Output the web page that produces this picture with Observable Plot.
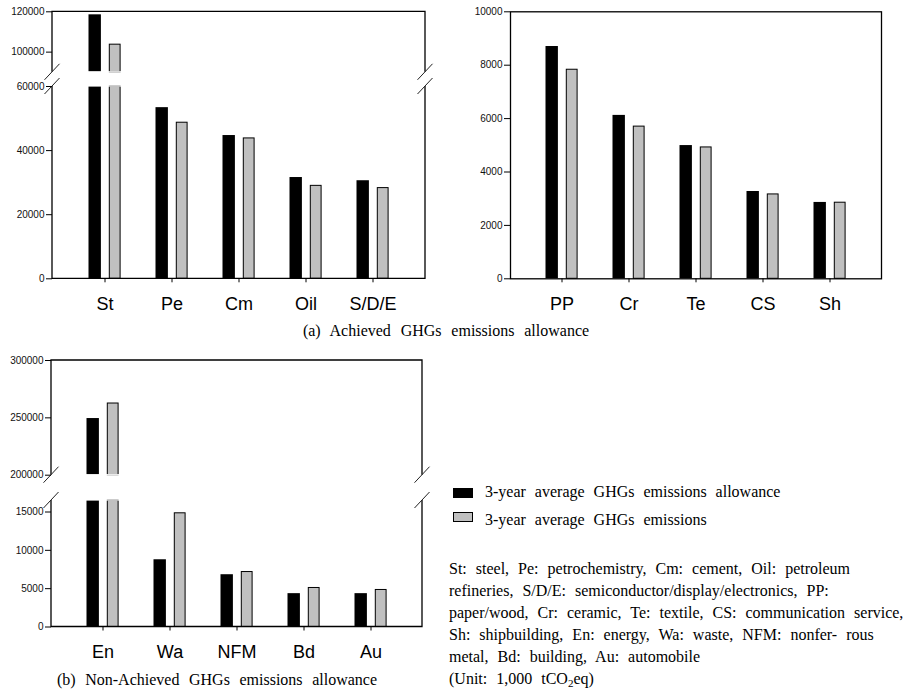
<!DOCTYPE html>
<html><head><meta charset="utf-8">
<script src="https://cdn.jsdelivr.net/npm/d3@7"></script>
<script src="https://cdn.jsdelivr.net/npm/@observablehq/plot@0.6"></script>
<style>
body{margin:0;background:#fff;}
#root{position:relative;width:909px;height:692px;overflow:hidden;background:#fff;}
.serif{position:absolute;font-family:"Liberation Serif","Times New Roman",serif;font-size:16px;color:#000;white-space:nowrap;word-spacing:5px;line-height:20px;}
.sw{position:absolute;width:20px;height:10px;box-sizing:border-box;}
</style></head><body><div id="root"></div>
<script>
// ---- data ----
const seriesNames = ["3-year average GHGs emissions allowance", "3-year average GHGs emissions"];
const catsA = ["St", "Pe", "Cm", "Oil", "S/D/E"];
const allowA = [118500, 53400, 44700, 31600, 30600];
const emisA  = [103700, 48700, 43800, 29000, 28300];
const ticksA = [0, 20000, 40000, 60000, 100000, 120000];
const rangeA = [[0, 60000], [90000, 120000]];   // lower / upper segments of broken axis

const catsB = ["PP", "Cr", "Te", "CS", "Sh"];
const allowB = [8700, 6120, 4990, 3270, 2860];
const emisB  = [7830, 5700, 4920, 3160, 2850];
const ticksB = [0, 2000, 4000, 6000, 8000, 10000];

const catsC = ["En", "Wa", "NFM", "Bd", "Au"];
const allowC = [249400, 8770, 6820, 4350, 4350];
const emisC  = [262500, 14830, 7170, 5090, 4830];
const ticksC = [0, 5000, 10000, 15000, 200000, 250000, 300000];
const rangeC = [[0, 16500], [200000, 300000]];

const captionA = "(a)  Achieved  GHGs  emissions  allowance";
const captionB = "(b)  Non-Achieved  GHGs  emissions  allowance";
const noteLines = [
  "St: steel, Pe: petrochemistry, Cm: cement, Oil: petroleum",
  "refineries, S/D/E: semiconductor/display/electronics, PP:",
  "paper/wood, Cr: ceramic, Te: textile, CS: communication service,",
  "Sh: shipbuilding, En: energy, Wa: waste, NFM: nonfer- rous",
  "metal, Bd: building, Au: automobile"
];
const unitText = ["(Unit: 1,000 tCO", "2", "eq)"];

const root = document.getElementById("root");
const FONT = "'Liberation Sans', Arial, sans-serif";

// open-sided frame with break marks ("top" = closed at top, "bottom" = closed at bottom)
function sideFrame(kind) {
  return (index, scales, values, dims) => {
    const g = d3.create("svg:g");
    const x0 = dims.marginLeft, x1 = dims.width - dims.marginRight;
    const y0 = dims.marginTop, y1 = dims.height - dims.marginBottom;
    let d, by;
    if (kind === "top") { d = `M${x0},${y1}V${y0}H${x1}V${y1}`; by = y1; }
    else { d = `M${x0},${y0}V${y1}H${x1}V${y0}`; by = y0; }
    // hide the bar outline along the break edge
    g.append("rect").attr("x", x0 + 1).attr("width", x1 - x0 - 2)
      .attr("y", kind === "top" ? y1 - 0.6 : y0 - 0.6).attr("height", 1.2).attr("fill", "white");
    g.append("path").attr("d", d).attr("fill", "none").attr("stroke", "black").attr("stroke-width", 1.3);
    for (const xx of [x0, x1]) {
      g.append("line").attr("x1", xx - 7.5).attr("x2", xx + 7.5)
        .attr("y1", by + 8).attr("y2", by - 8)
        .attr("stroke", "#222").attr("stroke-width", 1);
    }
    return g.node();
  };
}

function segment({cats, allow, emis, ticks, domain, frame, xAxis, left, top, width, height, margin}) {
  const rows = cats.map((c, i) => ({cat: c, allow: allow[i], emis: emis[i]}));
  const lo = domain[0];
  const marks = [
    Plot.barY(rows, {filter: d => d.allow > lo, x: "cat", y1: lo, y2: "allow", fill: "black", insetLeft: 17.5, insetRight: 37.1}),
    Plot.barY(rows, {filter: d => d.emis > lo, x: "cat", y1: lo, y2: "emis", fill: "#c0c0c0", stroke: "black", strokeWidth: 1, insetLeft: 38.3, insetRight: 17.9}),
    frame === "full" ? Plot.frame({stroke: "black", strokeWidth: 1.3}) : sideFrame(frame),
    Plot.axisY({ticks: ticks.filter(t => t >= domain[0] && t <= domain[1]), tickSize: 6, tickPadding: 2, fontSize: 10, tickFormat: d => String(d), label: null, fill: "#111"})
  ];
  if (xAxis) marks.push(Plot.axisX({tickSize: 4, tickPadding: 14, fontSize: 18, label: null, fill: "#000"}));
  const svg = Plot.plot({
    width, height,
    marginTop: margin[0], marginRight: margin[1], marginBottom: margin[2], marginLeft: margin[3],
    style: {background: "transparent", fontFamily: FONT, overflow: "visible"},
    x: {type: "band", domain: cats, paddingInner: 0, paddingOuter: 0.26, axis: null},
    y: {domain, clamp: true, axis: null},
    marks
  });
  svg.style.position = "absolute";
  svg.style.left = left + "px";
  svg.style.top = top + "px";
  svg.style.overflow = "visible";
  root.appendChild(svg);
}

// Panel (a) left: broken axis
segment({cats: catsA, allow: allowA, emis: emisA, ticks: ticksA, domain: rangeA[1], frame: "top",
  left: 0, top: 0, width: 440, height: 80, margin: [11.3, 15, 8.2, 52]});
segment({cats: catsA, allow: allowA, emis: emisA, ticks: ticksA, domain: rangeA[0], frame: "bottom", xAxis: true,
  left: 0, top: 80, width: 440, height: 240, margin: [6, 15, 41.7, 52]});

// Panel (a) right
segment({cats: catsB, allow: allowB, emis: emisB, ticks: ticksB, domain: [0, 10000], frame: "full", xAxis: true,
  left: 460, top: 0, width: 449, height: 320, margin: [11.3, 28, 41.7, 50]});

// Panel (b): broken axis
segment({cats: catsC, allow: allowC, emis: emisC, ticks: ticksC, domain: rangeC[1], frame: "top",
  left: 0, top: 330, width: 440, height: 150, margin: [30, 18, 5.3, 51]});
segment({cats: catsC, allow: allowC, emis: emisC, ticks: ticksC, domain: rangeC[0], frame: "bottom", xAxis: true,
  left: 0, top: 480, width: 440, height: 180, margin: [20, 18, 33.5, 51]});

function addText(txt, left, top, extra) {
  const d = document.createElement("div");
  d.className = "serif";
  d.textContent = txt;
  d.style.left = left + "px";
  d.style.top = top + "px";
  if (extra) Object.assign(d.style, extra);
  root.appendChild(d);
  return d;
}
addText(captionA, 446, 320.5, {transform: "translateX(-50%)", wordSpacing: "5.8px"});
addText(captionB, 217, 669.5, {transform: "translateX(-50%)", wordSpacing: "5.6px"});

// legend
const sw1 = document.createElement("div"); sw1.className = "sw";
Object.assign(sw1.style, {left: "453px", top: "488px", background: "#000"});
root.appendChild(sw1);
const sw2 = document.createElement("div"); sw2.className = "sw";
Object.assign(sw2.style, {left: "453px", top: "512px", background: "#c0c0c0", border: "1px solid #000"});
root.appendChild(sw2);
addText(seriesNames[0], 485, 482);
addText(seriesNames[1], 485, 509.5);

// notes
noteLines.forEach((t, i) => addText(t, 449, 557.6 + i * 22, {lineHeight: "22px"}));
const u = addText("", 449, 557.6 + 5 * 22, {lineHeight: "22px"});
u.append(unitText[0]);
const sub = document.createElement("sub"); sub.textContent = unitText[1];
sub.style.fontSize = "11px"; sub.style.verticalAlign = "-3px";
u.append(sub); u.append(unitText[2]);
</script></body></html>
